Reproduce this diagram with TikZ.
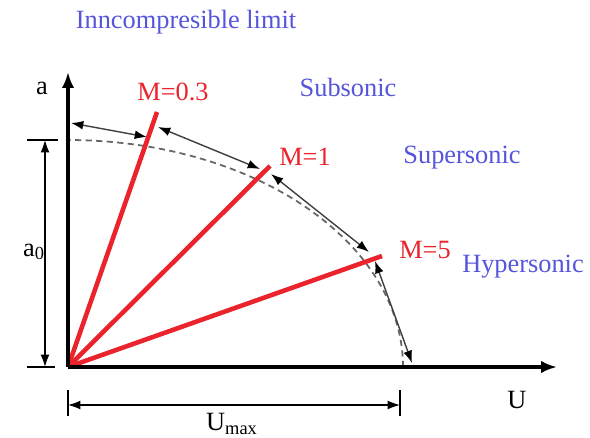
\documentclass[tikz,border=0pt]{standalone}
\usepackage{fontspec}
\setmainfont{Liberation Serif}
\usetikzlibrary{arrows.meta,positioning}
\definecolor{machred}{RGB}{235,35,45}
\definecolor{regionblue}{RGB}{85,85,220}

\begin{document}
\begin{tikzpicture}[x=0.02cm,y=-0.02cm,>=Latex,
    lbl/.style={font=\fontsize{15}{18}\selectfont,inner sep=0pt},
    regionlbl/.style={lbl,text=regionblue},
    machlbl/.style={lbl,text=machred},
    machline/.style={machred,line width=2.6pt},
    axisline/.style={line width=2.3pt,-{Latex[length=9pt,width=7pt]}},
    dimline/.style={line width=0.7pt,{Latex[length=7pt,width=5pt]}-{Latex[length=7pt,width=5pt]}},
    chordline/.style={black!75,line width=0.8pt,{Latex[length=7pt,width=5pt,color=black]}-{Latex[length=7pt,width=5pt,color=black]}}]
    \useasboundingbox (0,0) rectangle (590,438);

    % Reference points
    \coordinate (O) at (68,367);
    \coordinate (atop) at (68,72);
    \coordinate (uend) at (557,367);
    \coordinate (r03) at (157,112);
    \coordinate (r1) at (270,166);
    \coordinate (r5) at (382,256);

    % Incompressible limit (dashed ellipse)
    \draw[gray!80!black,line width=1pt,dash pattern=on 3.5pt off 2.5pt]
      plot[domain=0:90,samples=60,smooth] ({68+335*cos(\x)},{367-227*sin(\x)});

    % Regions along the outer curve
    \coordinate (c0) at (71,123);
    \coordinate (c1) at (147,137);
    \coordinate (c2) at (158,127);
    \coordinate (c3) at (260,169);
    \coordinate (c4) at (271,174);
    \coordinate (c5) at (369,252);
    \coordinate (c6) at (375,261);
    \coordinate (c7) at (412,363);
    \draw[chordline] (c0) -- (c1);
    \draw[chordline] (c2) -- (c3);
    \draw[chordline] (c4) -- (c5);
    \draw[chordline] (c6) -- (c7);

    % Mach lines
    \foreach \e in {r03,r1,r5} {
      \draw[machline] (O) -- (\e);
    }
    \node[machlbl] (m03) at (173,92) {M=0.3};
    \node[machlbl] (m1) at (305,157) {M=1};
    \node[machlbl] (m5) at (425,250) {M=5};

    % Axes
    \draw[axisline] (O) -- (atop);
    \draw[axisline] (O) -- (uend);
    \node[lbl] (alabel) at (42,88) {a};
    \node[lbl] (ulabel) at (517,400) {U};

    % Dimension a0
    \coordinate (a0top) at (45,140);
    \coordinate (a0bot) at (45,367);
    \draw[line width=0.7pt] (27,140) -- (58,140);
    \draw[line width=0.7pt] (27,367) -- (55,367);
    \draw[dimline] (a0top) -- (a0bot);
    \node[lbl] (azero) at (34,252) {a\textsubscript{0}};

    % Dimension Umax
    \coordinate (umleft) at (68,405);
    \coordinate (umright) at (400,405);
    \draw[line width=0.7pt] (68,390) -- (68,416);
    \draw[line width=0.7pt] (400,390) -- (400,416);
    \draw[dimline] (umleft) -- (umright);
    \node[lbl] (umax) at (232,424) {U\textsubscript{max}};

    % Flow regimes
    \node[regionlbl] (incomp) at (186,22) {Inncompresible limit};
    \node[regionlbl] (subsonic) at (348,87) {Subsonic};
    \node[regionlbl] (supersonic) at (462,158) {Supersonic};
    \node[regionlbl] (hypersonic) at (523,267) {Hypersonic};
  \end{tikzpicture}
\end{document}
